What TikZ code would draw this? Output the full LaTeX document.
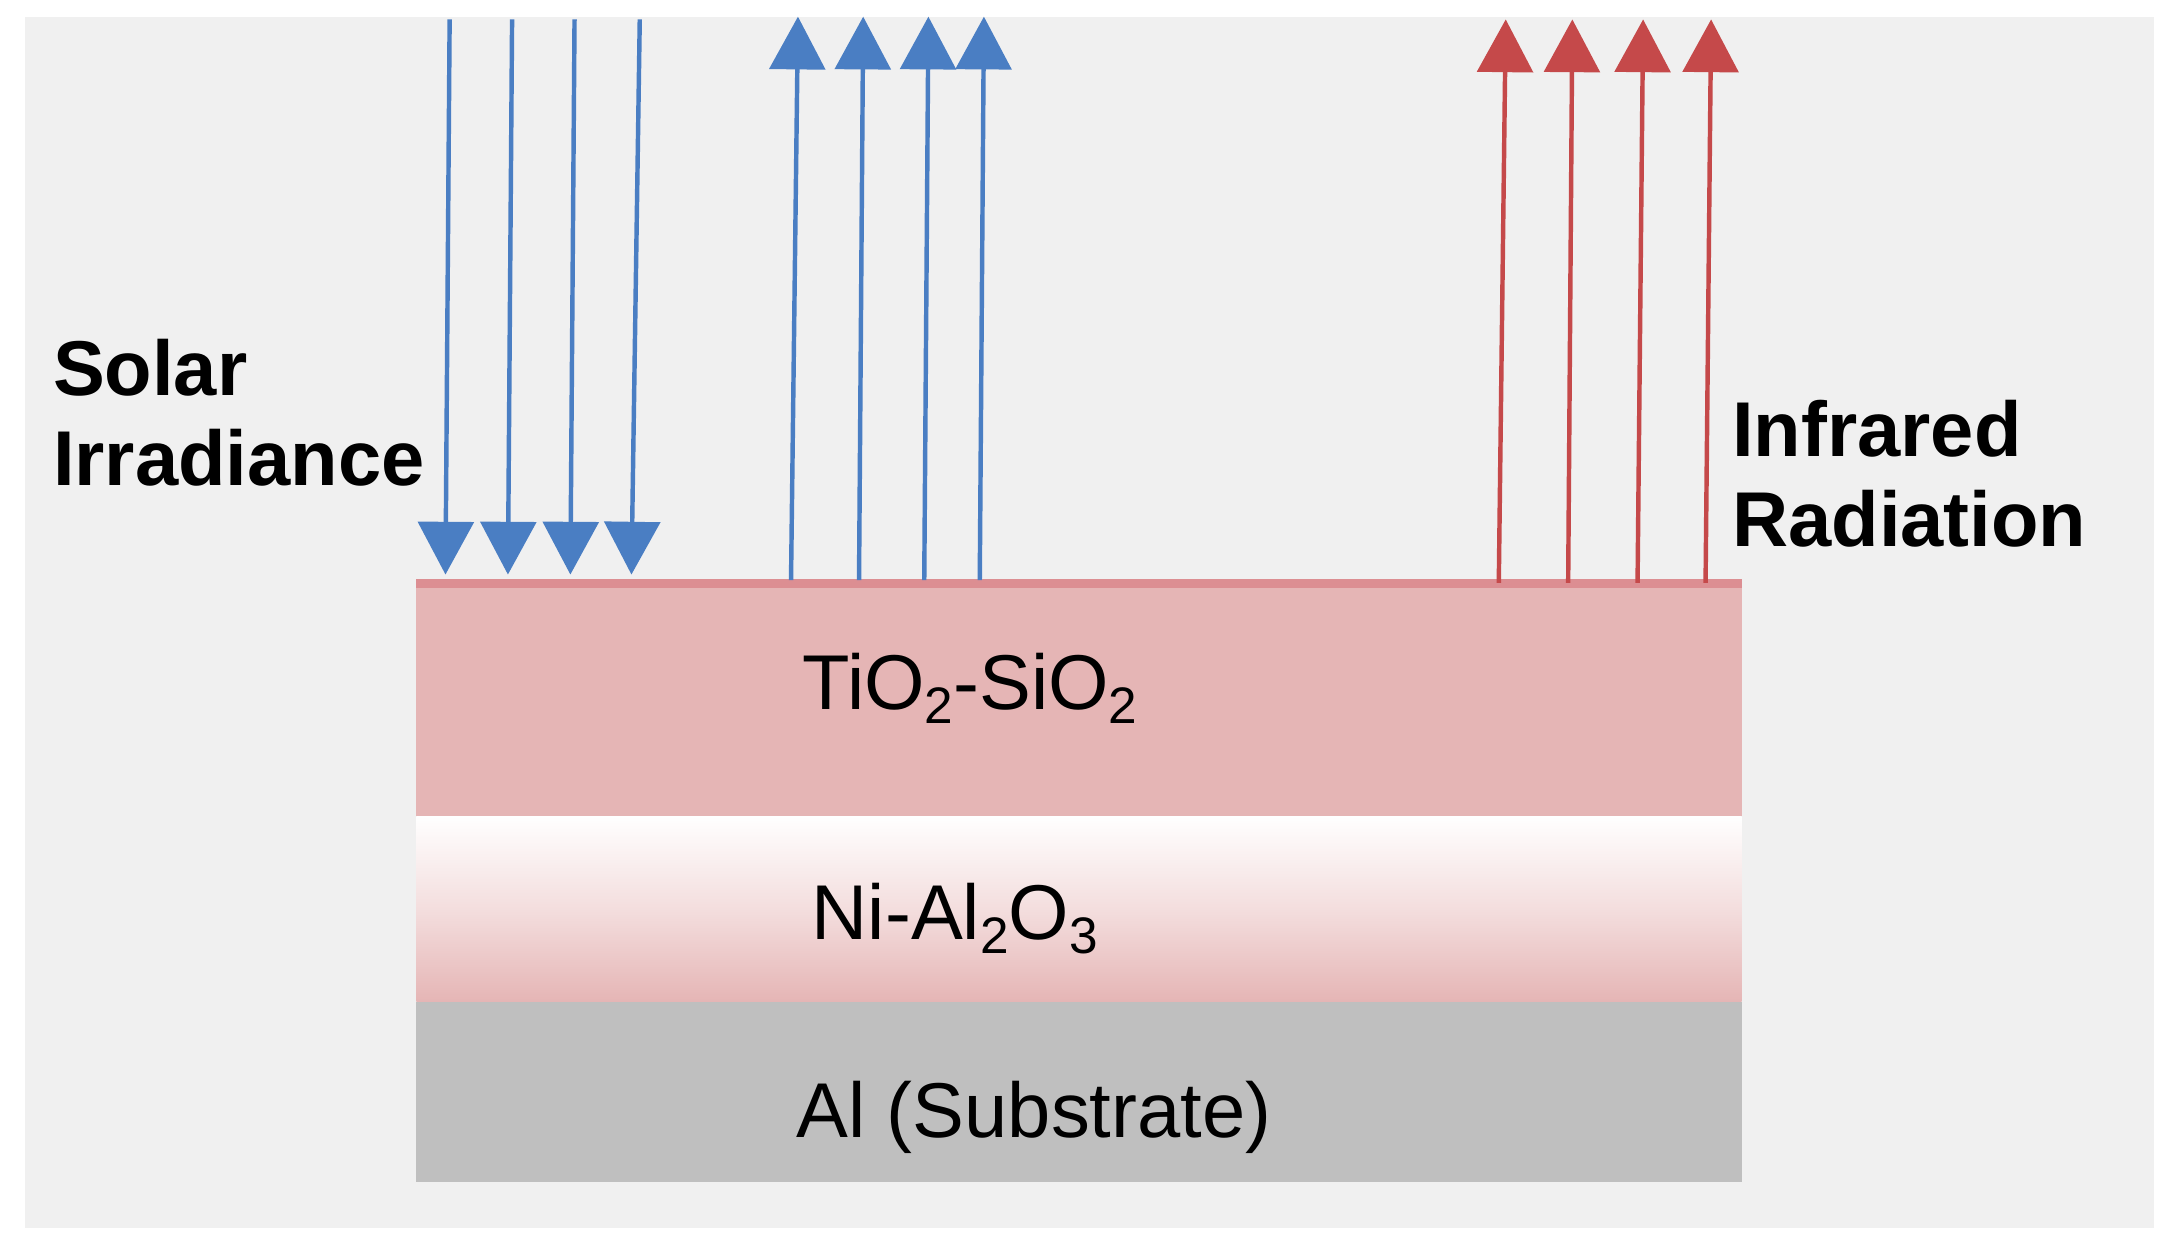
\documentclass[tikz,border=0pt]{standalone}
\usepackage{fontspec}
\setmainfont{Liberation Sans}
\usetikzlibrary{arrows.meta}
\definecolor{bg}{HTML}{F0F0F0}
\definecolor{pinkl}{HTML}{E5B5B5}
\definecolor{pinkd}{HTML}{DC8E92}
\definecolor{sub}{HTML}{BFBFBF}
\definecolor{blu}{HTML}{4A7EC3}
\definecolor{redd}{HTML}{C5494A}
\newcommand{\lowsub}[1]{\raisebox{-0.18em}{\fontsize{37}{40}\selectfont #1}}
\tikzset{
  ray/.style={line width=3.2pt,-{Triangle[width=40pt,length=38pt]}},
  big/.style={font=\fontsize{56}{65}\selectfont\bfseries,align=left,anchor=north west,inner sep=0pt},
  lab/.style={font=\fontsize{56}{60}\selectfont,inner sep=0pt}
}
\begin{document}
\begin{tikzpicture}[x=1pt,y=-1pt]
\useasboundingbox (0,0) rectangle (1568,905);
\fill[bg] (18,12) rectangle (1552,885);
\fill[pinkl] (300,420) rectangle (1255,588);
\fill[pinkd] (300,417) rectangle (1255,424);
\shade[top color=white,bottom color=pinkl,middle color={pinkl!45!white}] (300,588) rectangle (1255,722);
\fill[sub] (300,722) rectangle (1255,852);
\node[lab] (t) at (699,496) {TiO\lowsub{2}-SiO\lowsub{2}};
\node[lab] (n) at (688,662) {Ni-Al\lowsub{2}O\lowsub{3}};
\node[lab] (a) at (745,805) {Al (Substrate)};
\node[big] (s) at (38,244) {Solar\\Irradiance};
\node[big] (i) at (1248,288) {Infrared\\Radiation};
\foreach \a/\b [count=\k] in {324/321,369/366,414/411,461/455}{
  \coordinate (d\k s) at (\a,14); \coordinate (d\k e) at (\b,414);
  \draw[ray,blu] (d\k s) -- (d\k e);}
\foreach \a/\b [count=\k] in {570/575,619/622,666/669,706/709}{
  \coordinate (u\k s) at (\a,418); \coordinate (u\k e) at (\b,12);
  \draw[ray,blu] (u\k s) -- (u\k e);}
\foreach \a/\b [count=\k] in {1080/1085,1130/1133,1180/1184,1229/1233}{
  \coordinate (r\k s) at (\a,420); \coordinate (r\k e) at (\b,14);
  \draw[ray,redd] (r\k s) -- (r\k e);}
\end{tikzpicture}
\end{document}
